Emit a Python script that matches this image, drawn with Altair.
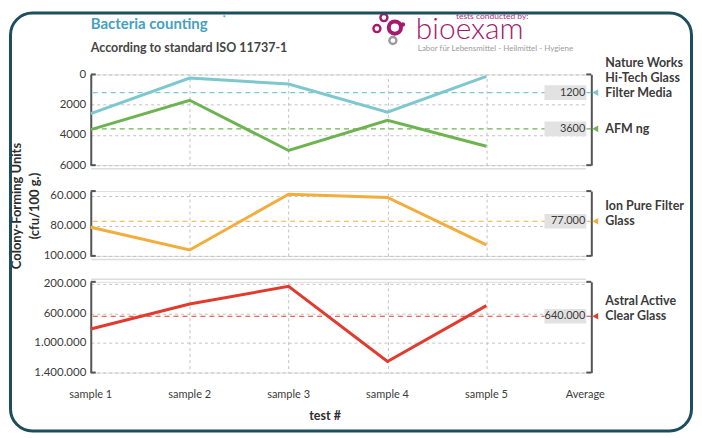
import altair as alt
import pandas as pd

# categories along the x axis
samples = ["sample 1", "sample 2", "sample 3", "sample 4", "sample 5"]
columns = samples + ["Average"]

# panel 1 (cfu/100 g.)
top_names = ["Nature Works\nHi-Tech Glass\nFilter Media", "AFM ng"]
top_colors = ["#7dc7cf", "#6db350"]
nature_works = [2590, 240, 640, 2490, 130]
afm_ng = [3650, 1710, 5030, 3030, 4750]
top_avg = [1200, 3600]
top_ticks = [0, 2000, 4000, 6000]

# panel 2
mid_names = ["Ion Pure Filter\nGlass"]
mid_colors = ["#f2ad3c"]
ion_pure = [81000, 96100, 59100, 61200, 92700]
mid_avg = [77000]
mid_ticks = [60000, 80000, 100000]

# panel 3
bot_names = ["Astral Active\nClear Glass"]
bot_colors = ["#e13b2f"]
astral = [811000, 474000, 236000, 1250000, 497000]
bot_avg = [640000]
bot_ticks = [200000, 600000, 1000000, 1400000]

title = "Bacteria counting"
subtitle = "According to standard ISO 11737-1"
y_title = "Colony-Forming Units\n(cfu/100 g.)"
x_title = "test #"

FONT = "Lato"
DARK = "#3b3b3b"
GRID = "#c2c2c2"
AXIS = "#555555"
W = 502

x_scale = alt.Scale(type="point", domain=columns, range=[0, 496], padding=0)
box_shape = "M-1,-0.35L1,-0.35L1,0.35L-1,0.35Z"
one = pd.DataFrame({"k": [0]})


def dotted(v):
    return f"{v:,}".replace(",", ".")


def foot(x, x2, y):
    return alt.Chart(one).mark_rule(color=AXIS, strokeWidth=2).encode(
        x=alt.value(x), x2=alt.value(x2), y=alt.value(y))


def panel(series, names, colors, avgs, domain, ticks, dots, edge, height):
    rows = [{"series": n, "sample": s, "cfu": v}
            for n, vals in zip(names, series) for s, v in zip(samples, vals)]
    df = pd.DataFrame(rows)
    avg_df = pd.DataFrame({
        "series": names,
        "avg": avgs,
        "label": [dotted(a) if dots else str(a) for a in avgs],
        "sample": ["Average"] * len(names),
    })
    # one row per line of the series name, k counted from the last line up
    name_rows = [{"series": n, "avg": a, "sample": "Average", "line": line, "k": k}
                 for n, a in zip(names, avgs)
                 for k, line in enumerate(reversed(n.split("\n")))]
    name_df = pd.DataFrame(name_rows)

    color = alt.Color("series:N", scale=alt.Scale(domain=names, range=colors), legend=None)
    y_scale = alt.Scale(domain=domain, reverse=True, nice=False, zero=False)
    expr = "replace(format(datum.value, ','), /,/g, '.')" if dots else "format(datum.value, 'd')"

    x_axis = alt.Axis(values=samples[1:], labels=False, ticks=False, title=None,
                      grid=True, gridDash=[3, 3], gridColor=GRID,
                      domain=True, domainColor="#dcdcdc", domainWidth=1.5,
                      offset=3, orient=edge)
    y_axis = alt.Axis(values=ticks, title=None, grid=True, gridDash=[3, 3], gridColor=GRID,
                      domainColor=AXIS, domainWidth=2, ticks=False, labelPadding=5,
                      labelFont=FONT, labelFontSize=11.5, labelColor=DARK, labelExpr=expr)

    lines = alt.Chart(df).mark_line(strokeWidth=3).encode(
        x=alt.X("sample:N", scale=x_scale, axis=x_axis),
        y=alt.Y("cfu:Q", scale=y_scale, axis=y_axis),
        color=color,
    )
    base = alt.Chart(avg_df).encode(
        x=alt.X("sample:N", scale=x_scale, axis=None),
        y=alt.Y("avg:Q", axis=None),
    )
    avg_rule = alt.Chart(avg_df).mark_rule(strokeDash=[5, 4], strokeWidth=1.2).encode(
        y=alt.Y("avg:Q", axis=alt.Axis(orient="right", labels=False, ticks=False, grid=False,
                                       domainColor=AXIS, domainWidth=2, title=None)),
        color=color,
    )
    box = base.mark_point(shape=box_shape, size=1764, filled=True, fill="#e2e2e2",
                          opacity=1, strokeWidth=0, xOffset=-20)
    value = base.mark_text(align="right", dx=0, font=FONT, fontSize=11, color=DARK).encode(
        text="label:N")
    marker = base.mark_point(shape="triangle-left", filled=True, size=45, opacity=1,
                             xOffset=10).encode(color=color)
    layers = [lines, avg_rule, box, value, marker]
    for k in sorted(name_df["k"].unique()):
        layers.append(
            alt.Chart(name_df).transform_filter(alt.datum.k == int(k)).mark_text(
                align="left", dx=20, dy=-15 * int(k), baseline="middle", font=FONT,
                fontSize=12.5, fontWeight="bold", color=DARK,
            ).encode(
                x=alt.X("sample:N", scale=x_scale, axis=None),
                y=alt.Y("avg:Q", axis=None),
                text="line:N",
            )
        )
    # bracket feet of the left and right axis lines
    for yy in (0, height):
        layers.append(foot(0, 5, yy))
        layers.append(foot(W - 5, W, yy))
    return layers


def label(text, x, y, **kw):
    return alt.Chart(pd.DataFrame({"t": [text]})).mark_text(font=FONT, **kw).encode(
        text="t:N", x=alt.value(x), y=alt.value(y))


def ring(x, y, size, color, width=2.4, filled=False):
    return alt.Chart(one).mark_point(shape="circle", filled=filled, size=size,
                                     strokeWidth=width, color=color, opacity=1).encode(
        x=alt.value(x), y=alt.value(y))


header = [
    label(title, 0, -51, align="left", fontSize=15, fontWeight="bold", color="#46a1be"),
    label("*", 132, -56, align="left", fontSize=8, fontWeight="bold", color="#46a1be"),
    label(subtitle, 0, -26, align="left", fontSize=12.5, fontWeight="bold", color="#454545"),
    label("bioexam", 326, -36, align="left", baseline="alphabetic", fontSize=30,
          fontWeight=300, color="#a6196f"),
    label("tests conducted by:", 439, -59, align="right", fontSize=8.5, color="#b4307f"),
    label("Labor für Lebensmittel - Heilmittel - Hygiene", 328, -25, align="left",
          fontSize=8, color="#9c9c9c"),
    ring(294, -57, 50, "#a6196f"),
    ring(287, -46, 50, "#a6196f"),
    ring(313, -50, 20, "#a6196f", filled=True),
    ring(305, -47, 150, "#a6196f", width=4),
    ring(303, -34, 50, "#9a9a9a"),
]

top = alt.layer(
    *panel([nature_works, afm_ng], top_names, top_colors, top_avg,
           [0, 6000], top_ticks, False, "bottom", 91),
    *header,
).resolve_axis(y="independent", x="independent").properties(width=W, height=91)

mid = alt.layer(
    *panel([ion_pure], mid_names, mid_colors, mid_avg,
           [57000, 100000], mid_ticks, True, "bottom", 65),
    label(y_title, -74, 15, align="center", baseline="middle", angle=270, lineBreak="\n",
          lineHeight=18, fontSize=13, fontWeight="bold", color="#2e2e2e"),
).resolve_axis(y="independent", x="independent").properties(width=W, height=65)

sample_df = pd.DataFrame({"sample": columns})
sample_labels = alt.Chart(sample_df).mark_text(font=FONT, fontSize=11, color=DARK).encode(
    x=alt.X("sample:N", scale=x_scale, axis=None),
    y=alt.value(114),
    text="sample:N",
)
frame = alt.Chart(one).mark_rect(fillOpacity=0, stroke="#1e4e5d", strokeWidth=3,
                                 cornerRadius=22).encode(
    x=alt.value(-80.5), x2=alt.value(602.5), y=alt.value(-269.5), y2=alt.value(149.5))

bot = alt.layer(
    *panel([astral], bot_names, bot_colors, bot_avg,
           [175000, 1400000], bot_ticks, True, "top", 91),
    sample_labels,
    label(x_title, 235, 135, align="center", fontSize=12.5, fontWeight="bold", color="#2e2e2e"),
    frame,
).resolve_axis(y="independent", x="independent").properties(width=W, height=91)

chart = alt.vconcat(top, mid, bot, spacing=26, bounds="flush").resolve_scale(
    color="independent"
).properties(padding=0, background="white").configure_view(strokeWidth=0).configure(font=FONT)

chart.save("out.html", embed_options={"renderer": "svg", "actions": False})
